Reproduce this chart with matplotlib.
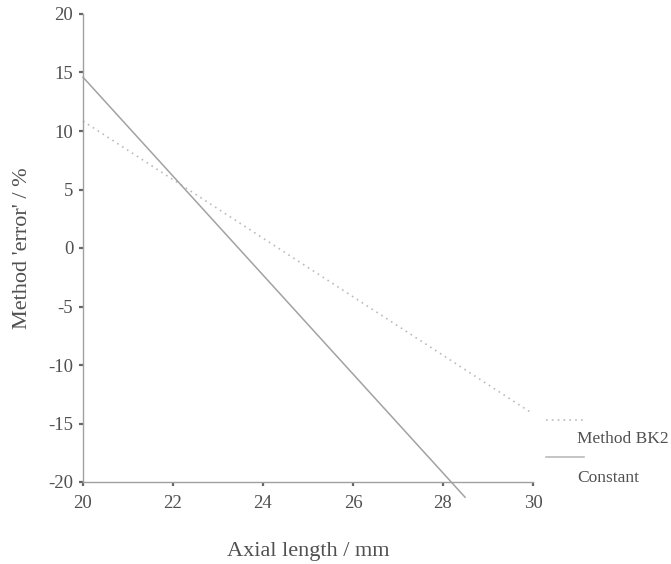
import matplotlib
matplotlib.use("Agg")
import matplotlib.pyplot as plt
from matplotlib.lines import Line2D

# Fitted lines: axial length (mm) -> method error (%)
bk2_x = [20.0, 29.93]
bk2_y = [10.85, -14.0]
const_x = [20.0, 28.49]
const_y = [14.6, -21.3]

x_ticks = [20, 22, 24, 26, 28, 30]
y_ticks = [20, 15, 10, 5, 0, -5, -10, -15, -20]
series_names = ["Method BK2", "Constant"]

plt.rcParams["font.family"] = ["Liberation Serif", "DejaVu Serif"]
W, H = 671, 564
fig = plt.figure(figsize=(W / 100, H / 100), dpi=100)
fig.patch.set_facecolor("white")
ax = fig.add_axes([83 / W, 1 - 482 / H, 450 / W, 468 / H])

text_c = "#505050"
axis_c = "#a0a0a0"

ax.plot(bk2_x, bk2_y, color="#bcbcbc", lw=1.2, ls=(0, (1, 2.5)), clip_on=False)
ax.plot(const_x, const_y, color="#a2a2a2", lw=1.1, clip_on=False)

ax.set_xlim(20, 30)
ax.set_ylim(-20, 20)
ax.set_xticks(x_ticks)
ax.set_yticks(y_ticks)
ax.set_xticklabels([str(v) for v in x_ticks])
ax.set_yticklabels([str(v) for v in y_ticks])

for s in ("top", "right"):
    ax.spines[s].set_visible(False)
for s in ("left", "bottom"):
    ax.spines[s].set_color(axis_c)
    ax.spines[s].set_linewidth(1.0)
ax.tick_params(direction="out", length=3, width=1.6, color="#666666",
               labelcolor=text_c, labelsize=13.5)
ax.tick_params(axis="x", pad=6)
ax.tick_params(axis="y", pad=4)

ax.set_xlabel("Axial length / mm", fontsize=16, color=text_c, labelpad=22)
ax.set_ylabel("Method 'error' / %", fontsize=16, color=text_c, labelpad=12)

# Key at lower right
def fx(px):
    return px / W

def fy(py):
    return 1 - py / H

fig.add_artist(Line2D([fx(546), fx(586)], [fy(420), fy(420)], color="#bcbcbc",
                      lw=1.2, ls=(0, (1, 2.5)), transform=fig.transFigure))
fig.text(fx(577), fy(439), series_names[0], fontsize=12.5, color=text_c,
         va="center", ha="left")
fig.add_artist(Line2D([fx(546), fx(584)], [fy(457), fy(457)], color="#b4b4b4",
                      lw=1.1, transform=fig.transFigure))
fig.text(fx(577), fy(478), series_names[1], fontsize=12.5, color=text_c,
         va="center", ha="left")

fig.savefig("out.png", dpi=100, facecolor="white")
